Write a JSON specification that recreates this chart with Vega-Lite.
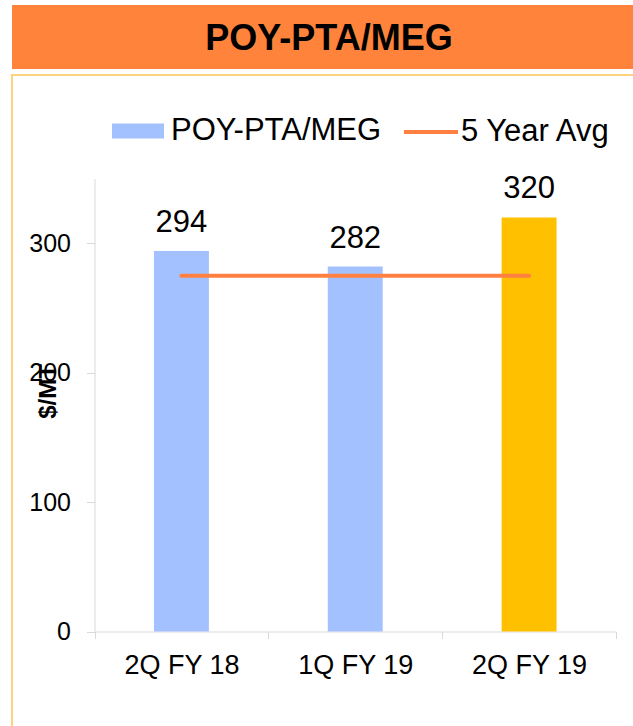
{
  "$schema": "https://vega.github.io/schema/vega-lite/v6.json",
  "padding": {"left": 11, "top": 5, "right": 0, "bottom": 0},
  "background": "white",
  "spacing": 5,
  "config": {"font": "Liberation Sans", "view": {"stroke": null}},
  "vconcat": [
    {
      "width": 622,
      "height": 64,
      "view": {"fill": "#FF833A", "stroke": null},
      "data": {"values": [{"title": "POY-PTA/MEG"}]},
      "mark": {"type": "text", "font": "Liberation Sans", "fontWeight": "bold", "fontSize": 36, "color": "black", "dx": 6, "dy": 2, "baseline": "middle"},
      "encoding": {"text": {"field": "title", "type": "nominal"}}
    },
    {
      "width": 622,
      "height": 652,
      "view": {"stroke": "#FFD27F", "strokeWidth": 2},
      "layer": [
        {
          "data": {"values": [
            {"quarter": "2Q FY 18", "value": 294, "group": "POY-PTA/MEG"},
            {"quarter": "1Q FY 19", "value": 282, "group": "POY-PTA/MEG"},
            {"quarter": "2Q FY 19", "value": 320, "group": "Current"}
          ]},
          "layer": [
            {
              "mark": {"type": "bar", "width": {"band": 0.316}},
              "encoding": {
                "x": {"field": "quarter", "type": "nominal", "sort": ["2Q FY 18", "1Q FY 19", "2Q FY 19"],
                  "scale": {"range": [82.5, 604], "paddingInner": 0, "paddingOuter": 0},
                  "axis": {"title": null, "labelAngle": 0, "labelFontSize": 27, "labelColor": "black", "tickBand": "extent", "tickSize": 7, "tickColor": "#D9D9D9", "domainColor": "#D9D9D9", "labelPadding": 14, "offset": -95.5}},
                "y": {"field": "value", "type": "quantitative",
                  "scale": {"domain": [0, 350], "range": [556.5, 103.6], "nice": false},
                  "axis": {"title": "$/MT", "values": [0, 100, 200, 300], "grid": false, "labelFontSize": 25, "labelColor": "black", "labelPadding": 16, "tickSize": 8, "tickColor": "#D9D9D9", "domainColor": "#D9D9D9", "offset": -82.5,
                    "titleFontSize": 24, "titleFontWeight": "bold", "titleColor": "black", "titleX": -46, "titleY": 316, "titleAngle": -90, "titleBaseline": "middle", "titleAlign": "center"}},
                "fill": {"field": "group", "type": "nominal",
                  "scale": {"domain": ["POY-PTA/MEG", "Current"], "range": ["#A3C0FF", "#FFC000"]},
                  "legend": {"values": ["POY-PTA/MEG"], "title": null, "orient": "none", "legendX": 100, "legendY": 100, "padding": 0,
                    "symbolType": "M-1,-0.29H1V0.29H-1Z", "symbolSize": 2704, "symbolStrokeWidth": 0, "labelFontSize": 31, "labelLimit": 400, "labelColor": "black", "labelOffset": 7}}
              }
            },
            {
              "mark": {"type": "text", "fontSize": 31, "baseline": "alphabetic", "dy": -19, "color": "black"},
              "encoding": {
                "x": {"field": "quarter", "type": "nominal", "sort": ["2Q FY 18", "1Q FY 19", "2Q FY 19"]},
                "y": {"field": "value", "type": "quantitative", "title": "$/MT"},
                "text": {"field": "value", "type": "quantitative"}
              }
            }
          ]
        },
        {
          "data": {"values": [
            {"quarter": "2Q FY 18", "avg": 275, "series": "5 Year Avg"},
            {"quarter": "1Q FY 19", "avg": 275, "series": "5 Year Avg"},
            {"quarter": "2Q FY 19", "avg": 275, "series": "5 Year Avg"}
          ]},
          "mark": {"type": "line", "strokeWidth": 4, "strokeCap": "round"},
          "encoding": {
            "x": {"field": "quarter", "type": "nominal", "sort": ["2Q FY 18", "1Q FY 19", "2Q FY 19"]},
            "y": {"field": "avg", "type": "quantitative", "title": "$/MT"},
            "stroke": {"field": "series", "type": "nominal",
              "scale": {"domain": ["5 Year Avg"], "range": ["#FF8040"]},
              "legend": {"title": null, "orient": "none", "legendX": 390, "legendY": 98, "padding": 0,
                "symbolType": "stroke", "symbolSize": 2916, "symbolStrokeWidth": 4, "labelFontSize": 31, "labelLimit": 400, "labelColor": "black", "labelOffset": 1}}
          }
        }
      ]
    }
  ]
}
